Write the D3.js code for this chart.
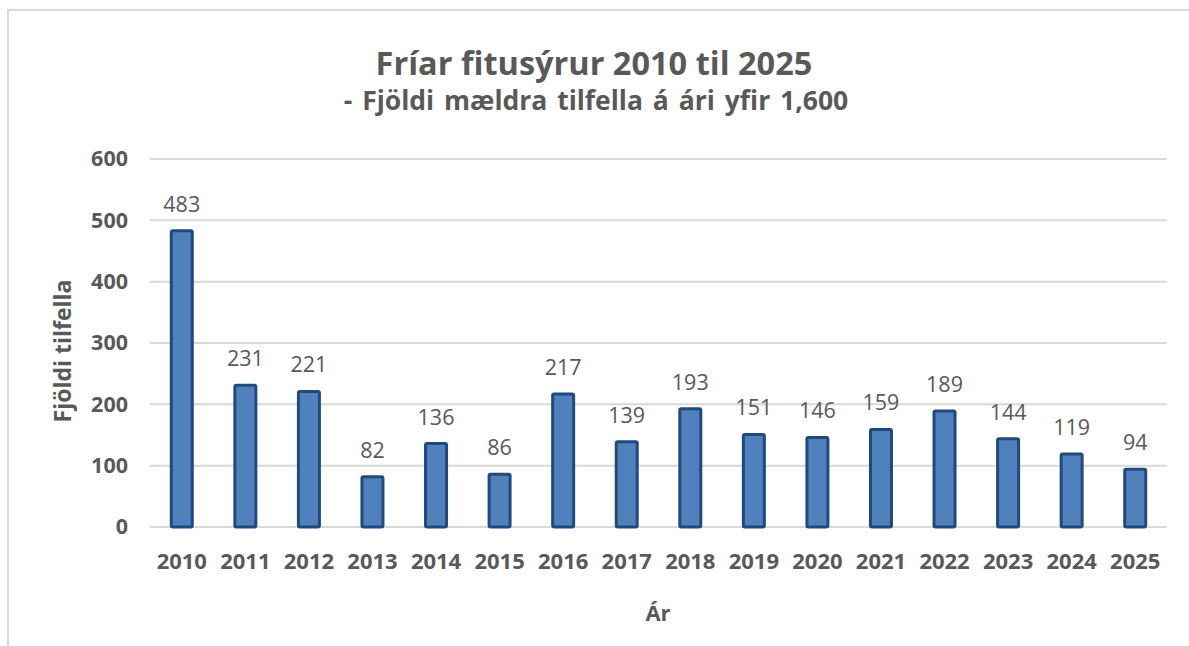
<!DOCTYPE html>
<html><head><meta charset="utf-8">
<script src="https://cdn.jsdelivr.net/npm/d3@7"></script>
<style>body{margin:0;background:#fff}svg{display:block}</style>
</head><body>
<svg id="c" width="1189" height="646"></svg>
<script>
const years = ["2010","2011","2012","2013","2014","2015","2016","2017","2018","2019","2020","2021","2022","2023","2024","2025"];
const counts = [483,231,221,82,136,86,217,139,193,151,146,159,189,144,119,94];
const yTicks = [0,100,200,300,400,500,600];
const title = "Fríar fitusýrur 2010 til 2025";
const subtitle = "- Fjöldi mældra tilfella á ári yfir 1,600";
const yTitle = "Fjöldi tilfella";
const xTitle = "Ár";

const svg = d3.select("#c");
const font = "'Open Sans', sans-serif";
const grey = "#595959";
const L = 150, R = 1167, T = 159, B = 527;

// chart border (partially visible)
svg.append("rect").attr("x",8).attr("y",10).attr("width",1200).attr("height",700)
  .attr("fill","none").attr("stroke","#d9d9d9").attr("stroke-width",2);

const x = d3.scaleBand().domain(years).range([L,R]).paddingInner(0.63).paddingOuter(0.315);
const y = d3.scaleLinear().domain([0,600]).range([B,T]);

// gridlines
svg.append("g").selectAll("line").data(yTicks).join("line")
  .attr("x1",L).attr("x2",R).attr("y1",d=>y(d)).attr("y2",d=>y(d))
  .attr("stroke","#d9d9d9").attr("stroke-width",2);

// y axis labels
const ya = svg.append("g").attr("transform",`translate(${L-22},0)`)
  .call(d3.axisLeft(y).tickValues(yTicks).tickSize(0).tickPadding(0).tickFormat(d3.format("d")));
ya.select(".domain").remove();
ya.selectAll("text").attr("font-family",font).attr("font-weight","bold").attr("font-size",21.5).attr("fill",grey);

// x axis labels
const xa = svg.append("g").attr("transform",`translate(0,${B+26})`)
  .call(d3.axisBottom(x).tickSize(0).tickPadding(0));
xa.select(".domain").remove();
xa.selectAll("text").attr("font-family",font).attr("font-weight","bold").attr("font-size",22).attr("fill",grey);

// bars
const bw = 21;
svg.append("g").selectAll("rect").data(counts).join("rect")
  .attr("x",(d,i)=>x(years[i])+x.bandwidth()/2-bw/2)
  .attr("width",bw)
  .attr("y",d=>y(d)).attr("height",d=>B-y(d))
  .attr("rx",1.5)
  .attr("fill","#4f81bd").attr("stroke","#1f4a7e").attr("stroke-width",3);

// data labels
svg.append("g").selectAll("text").data(counts).join("text")
  .attr("x",(d,i)=>x(years[i])+x.bandwidth()/2)
  .attr("y",d=>y(d)-19)
  .attr("text-anchor","middle").attr("font-family",font).attr("font-size",21.5).attr("fill",grey)
  .text(d=>d);

// titles
svg.append("text").attr("x",594).attr("y",75).attr("text-anchor","middle")
  .attr("font-family",font).attr("font-weight","bold").attr("font-size",32.5).attr("fill",grey).text(title);
svg.append("text").attr("x",596).attr("y",110).attr("text-anchor","middle")
  .attr("font-family",font).attr("font-weight","bold").attr("font-size",26.5).attr("fill",grey)
  .attr("word-spacing",3).text(subtitle);

svg.append("text").attr("transform","translate(71,351) rotate(-90)").attr("text-anchor","middle")
  .attr("font-family",font).attr("font-weight","bold").attr("font-size",23).attr("fill",grey).text(yTitle);
svg.append("text").attr("x",658).attr("y",621).attr("text-anchor","middle")
  .attr("font-family",font).attr("font-weight","bold").attr("font-size",22).attr("fill",grey).text(xTitle);
</script>
</body></html>
